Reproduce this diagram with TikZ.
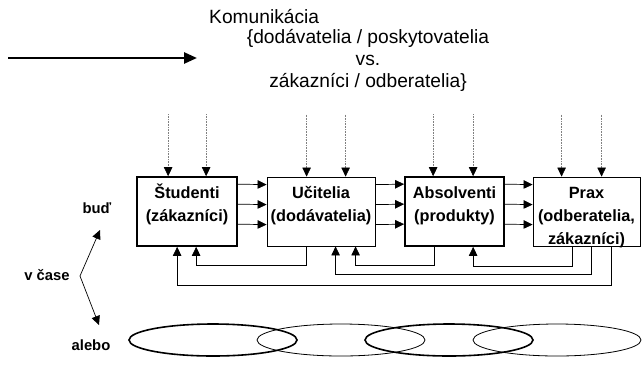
\documentclass[tikz,border=0pt]{standalone}
\usepackage{fontspec}
\setmainfont{Liberation Sans}
\usetikzlibrary{arrows.meta, calc}
\tikzset{
  unit/.style={draw, line width=0.8pt, minimum height=69pt, inner xsep=0pt, inner ysep=0pt, text height=40pt, text depth=21pt, align=center, font=\bfseries\fontsize{16.3}{23}\selectfont},
  unitb/.style={unit, line width=1.7pt},
  tall/.style={text height=66pt, text depth=1pt},
  tra/.style={-{Triangle[length=9pt, width=8.5pt]}, line width=0.7pt},
  inp/.style={-{Triangle[length=9pt, width=8.5pt, color=black]}, densely dotted, draw=gray, line width=0.6pt},
  big/.style={-{Triangle[length=13pt, width=11pt]}, line width=2.6pt},
  lbl/.style={font=\bfseries\fontsize{14.8}{16}\selectfont},
  txt/.style={font=\fontsize{19.2}{22}\selectfont, inner sep=0pt},
  ring/.style={draw, line width=0.8pt},
  ringb/.style={draw, line width=1.6pt}
}
% feedback: from box #1 (offset #2) down by #5, back to box #3 (offset #4)
\newcommand{\fback}[5]{\draw[tra] ($(#1.south west)+(#2,0)$) |- ($(#3.south west)+(#4,#5)$) -- ($(#3.south west)+(#4,0)$);}
% dotted input into box #1 at offset #2
\newcommand{\inarr}[2]{\draw[inp] ($(#1.north west)+(#2,-62)$) -- ($(#1.north west)+(#2,0)$);}

\begin{document}
\begin{tikzpicture}[x=1pt, y=-1pt]
	\useasboundingbox (0,0) rectangle (642,365);
	% top text
	\node[txt, anchor=west] (komm) at (209,17) {Komunikácia};
	\node[txt, align=center] (part) at (368,60) {\{dodávatelia / poskytovatelia\\vs.\\zákazníci / odberatelia\}};
	\coordinate (src) at (8,58);
	\coordinate (dst) at (197,58);
	\draw[big] (src) -- (dst);
	% boxes
	\node[unitb, minimum width=100pt] (b1) at (187,211.5) {Študenti\\(zákazníci)};
	\node[unit, minimum width=108pt] (b2) at (321,211.5) {Učitelia\\(dodávatelia)};
	\node[unitb, minimum width=99pt] (b3) at (454.5,211.5) {Absolventi\\(produkty)};
	\node[unit, tall, minimum width=107pt] (b4) at (586.5,211.5) {Prax\\(odberatelia,\\zákazníci)};
	% flows between boxes
	\foreach \a/\b in {b1/b2, b2/b3, b3/b4}
		\foreach \dy in {8,28,48}
			\draw[tra] ($(\a.north east)+(0,\dy)$) -- ($(\b.north west)+(0,\dy)$);
	% inputs
	\inarr{b1}{32} \inarr{b1}{70}
	\inarr{b2}{40} \inarr{b2}{79}
	\inarr{b3}{29} \inarr{b3}{69}
	\inarr{b4}{29} \inarr{b4}{69}
	% feedback
	\fback{b2}{40}{b1}{60}{18}
	\fback{b3}{30}{b2}{89}{19}
	\fback{b4}{40}{b3}{69}{19}
	\fback{b4}{59}{b2}{69}{28}
	\fback{b4}{79}{b1}{41}{38}
	% left side
	\node[lbl] (bud) at (97,208) {buď};
	\node[lbl] (vcase) at (47,275) {v čase};
	\node[lbl] (alebo) at (91,345) {alebo};
	\coordinate (turn) at (80,276);
	\coordinate (up) at (100,230);
	\coordinate (down) at (99,325);
	\draw[tra] (turn) -- (up);
	\draw[tra] (turn) -- (down);
	% ellipses
	\draw[ringb] (213,340) ellipse [x radius=84pt, y radius=16pt];
	\draw[ring] (341,340) ellipse [x radius=84pt, y radius=16pt];
	\draw[ringb] (449,340) ellipse [x radius=84pt, y radius=16pt];
	\draw[ring] (557,340) ellipse [x radius=84pt, y radius=16pt];
\end{tikzpicture}
\end{document}
